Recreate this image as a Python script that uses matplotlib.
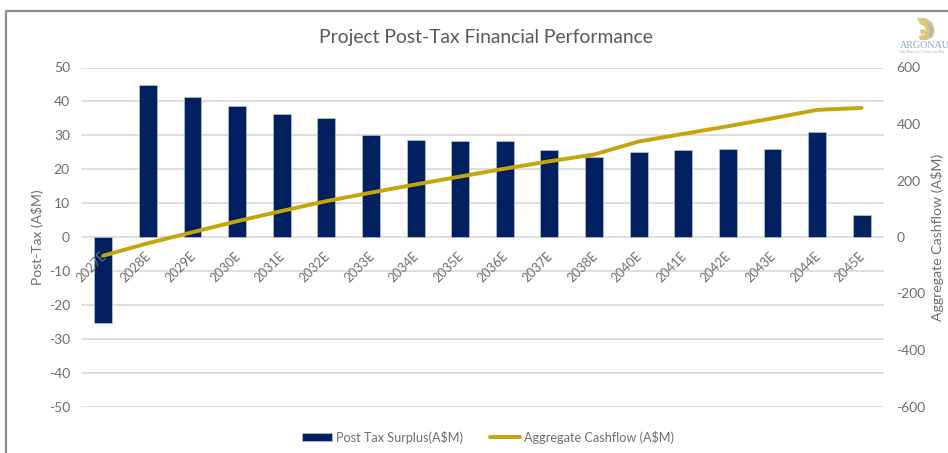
import matplotlib

matplotlib.use("Agg")
import matplotlib.pyplot as plt
import numpy as np
from matplotlib.patches import Polygon
from matplotlib.transforms import ScaledTranslation

years = ["2027E", "2028E", "2029E", "2030E", "2031E", "2032E", "2033E", "2034E", "2035E",
         "2036E", "2037E", "2038E", "2040E", "2041E", "2042E", "2043E", "2044E", "2045E"]
surplus = [-25.3, 44.9, 41.4, 38.6, 36.3, 35.1, 30.1, 28.6, 28.3,
           28.4, 25.7, 23.6, 25.1, 25.7, 25.9, 25.9, 30.9, 6.5]
cashflow = [-66, -22, 17, 56, 92, 127, 157, 186, 214,
            242, 268, 292, 338, 365, 392, 420, 450, 457]

navy = "#002060"
gold = "#C4A50A"
grey = "#6E6E6E"
W, H = 948, 453

plt.rcParams["font.family"] = ["Lato", "DejaVu Sans"]
plt.rcParams["axes.unicode_minus"] = False

figure = plt.figure(figsize=(W / 100, H / 100), dpi=100)

# Plot area, in pixels of the reference
left, right, top, bottom = 81, 884, 67.5, 406.5
axes = figure.add_axes([left / W, 1 - bottom / H, (right - left) / W, (bottom - top) / H])
axes2 = axes.twinx()

x = np.arange(len(years))
bars = axes.bar(x, surplus, width=0.4, color=navy, edgecolor="#C9D2E3", linewidth=0.4, label="Post Tax Surplus(A$M)", zorder=2)
(line,) = axes2.plot(x, cashflow, color=gold, linewidth=2.8, solid_capstyle="round", label="Aggregate Cashflow (A$M)")

axes.set_xlim(-0.5, len(years) - 0.5)
axes.set_ylim(-50, 50)
axes.set_yticks(np.arange(-50, 51, 10))
axes2.set_ylim(-600, 600)
axes2.set_yticks(np.arange(-600, 601, 200))

axes.grid(axis="y", color="#D9D9D9", linewidth=1.2)
for ax in (axes, axes2):
    for spine in ax.spines.values():
        spine.set_visible(False)
    ax.tick_params(length=0, labelsize=10, labelcolor=grey)
axes.tick_params(axis="y", pad=8)
axes2.tick_params(axis="y", pad=9)

# Category labels hang off the zero line and stay above the bars
axes.spines["bottom"].set_position("zero")
axes.set_xticks(x)
axes.set_xticklabels(years, rotation=45, ha="right", rotation_mode="anchor", fontsize=9.2, color=grey)
axes.tick_params(axis="x", pad=9)
axes.yaxis.set_zorder(0.5)
axes.xaxis.set_zorder(5)
shift = ScaledTranslation(-3 / 100, 0, figure.dpi_scale_trans)
for label in axes.get_xticklabels():
    label.set_transform(label.get_transform() + shift)

figure.text(485.5 / W, 1 - 37.5 / H, "Project Post-Tax Financial Performance", ha="center", va="center", fontsize=13.85, color="#595959")
figure.text(37 / W, 1 - 237 / H, "Post-Tax (A$M)", rotation=90, ha="center", va="center", fontsize=10, color=grey)
figure.text(938 / W, 1 - 237 / H, "Aggregate Cashflow (A$M)", rotation=90, ha="center", va="center", fontsize=10.2, color=grey)

figure.legend(handles=[bars, line], loc="center", bbox_to_anchor=(488 / W, 1 - 437 / H), ncol=2, frameon=False,
              fontsize=9.05, labelcolor=grey, handlelength=2.4, handleheight=0.5, handletextpad=0.3, columnspacing=2.15)

# Frame and logo, drawn in pixel coordinates
overlay = figure.add_axes([0, 0, 1, 1], zorder=10)
overlay.set_xlim(0, W)
overlay.set_ylim(H, 0)
overlay.axis("off")
overlay.plot([6.5, 6.5, W], [H, 10.5, 10.5], color="#8C8C8C", linewidth=1.6)
overlay.add_patch(Polygon([(917, 18), (925, 18), (932, 22), (935, 30), (933, 37), (927, 40), (920, 40),
                           (919, 36), (924, 35), (926, 30), (924, 26), (920, 24)], closed=True, color="#D9C878", linewidth=0))
overlay.add_patch(Polygon([(926, 21), (931, 25), (933, 31), (931, 37), (929, 37), (930, 31), (928, 25)], closed=True, color="#A9B7C6", linewidth=0))
overlay.add_patch(Polygon([(920, 30), (925, 29), (925, 33), (921, 35)], closed=True, color="#D9C878", linewidth=0))
overlay.text(899.5, 45.5, "ARGONAU", family="Liberation Serif", fontsize=7.2, color="#8FA3BD", ha="left", va="center")
overlay.text(899.5, 52, "The National Choice in Res", family="Liberation Serif", fontsize=3, color="#A0AEC2", ha="left", va="center")

figure.savefig("out.png", dpi=100)
